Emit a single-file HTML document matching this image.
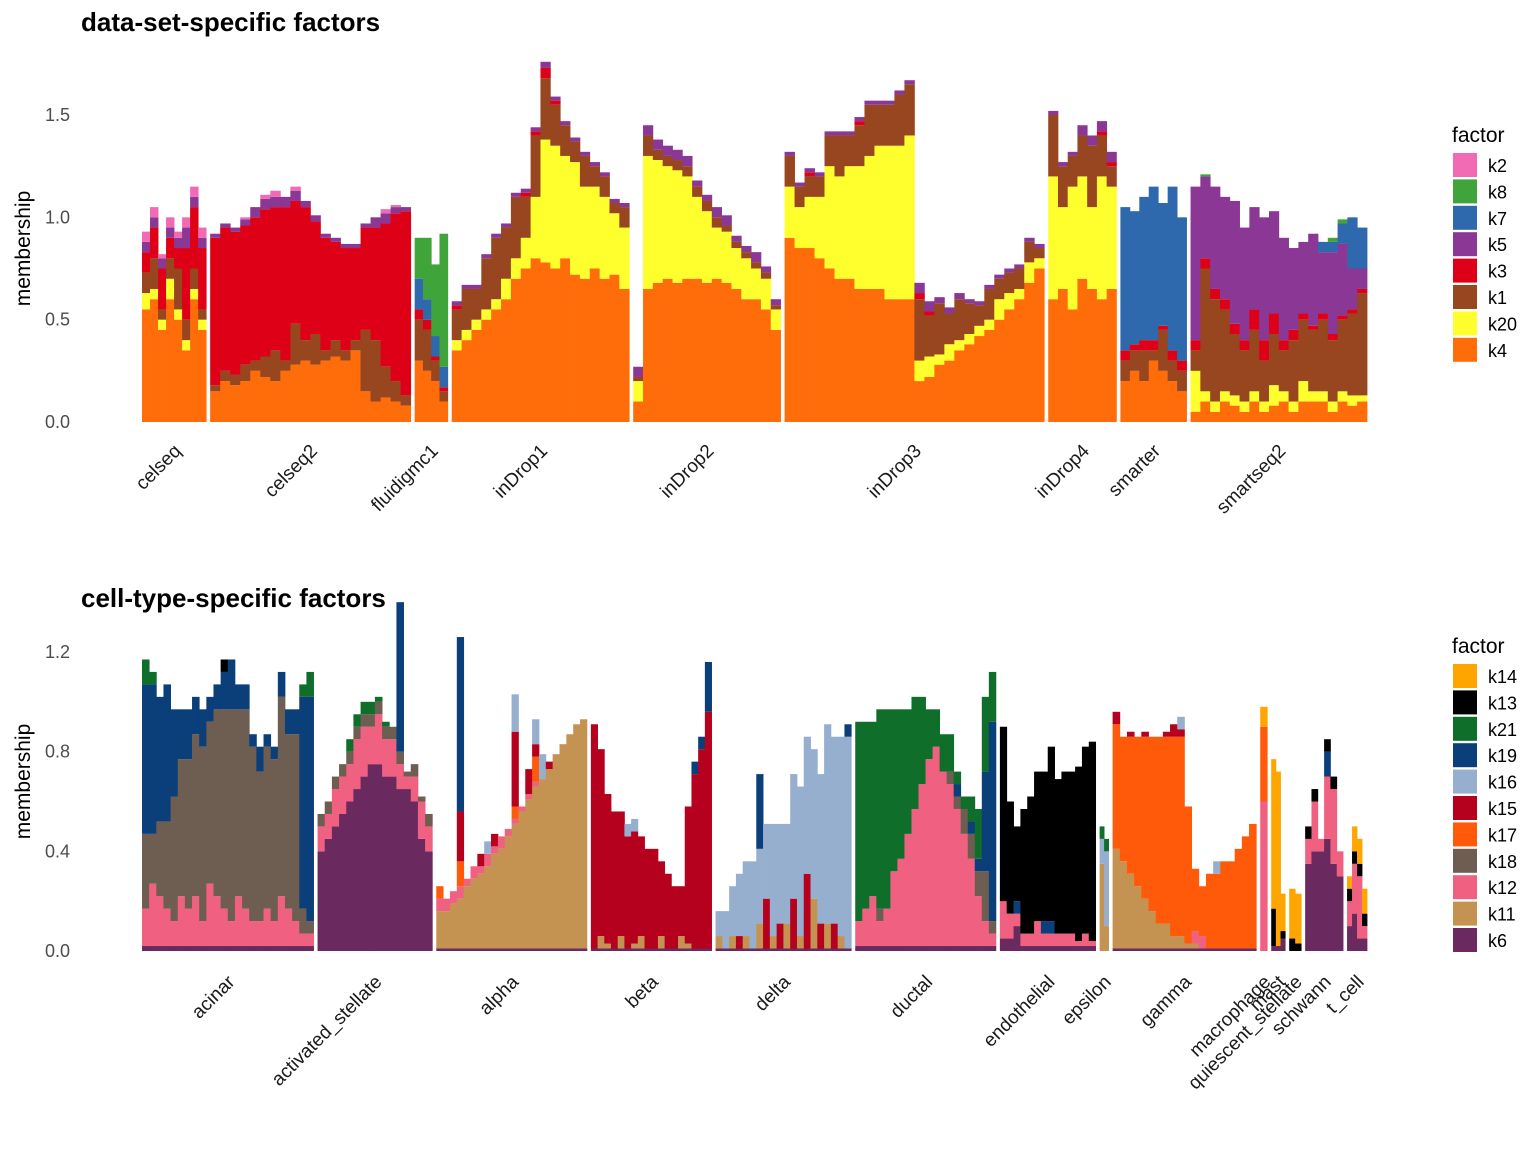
<!DOCTYPE html>
<html><head><meta charset="utf-8"><style>
body{margin:0;background:#fff}
svg text{font-family:"Liberation Sans",Arial,sans-serif}
</style></head><body>
<svg id="chart" width="1536" height="1152" viewBox="0 0 1536 1152" xmlns="http://www.w3.org/2000/svg">
<rect width="1536" height="1152" fill="#fff"/>
<text x="81" y="31" font-size="26" font-weight="bold">data-set-specific factors</text>
<text x="81" y="607" font-size="26" font-weight="bold">cell-type-specific factors</text>
<g id="top"></g>
<g id="bot"></g>
</svg>
<script>
// ---------- TOP PANEL DATA ----------
const topFactors = ['k4','k20','k1','k3','k5','k7','k8','k2'];
const topColors = {k4:'#FF6D0A',k20:'#FFFF2E',k1:'#97461F',k3:'#DD0016',k5:'#8B3796',k7:'#2F69AD',k8:'#3FA43A',k2:'#F06AB4'};
const topLegend = ['k2','k8','k7','k5','k3','k1','k20','k4'];
const topGroupNames = ['celseq','celseq2','fluidigmc1','inDrop1','inDrop2','inDrop3','inDrop4','smarter','smartseq2'];
const topGroupCells = [64,200,33,177,147,259,68,66,176];
const topYTicks = [0,0.5,1.0,1.5];
const topYTickLabels = ['0.0','0.5','1.0','1.5'];
const topData = [
 {k4:[0.55,0.6,0.45,0.6,0.5,0.35,0.6,0.45],k20:[0.08,0.05,0.05,0.1,0.05,0.05,0.05,0.05],k1:[0.1,0.15,0.05,0.1,0.2,0.1,0.1,0.05],k3:[0.1,0.15,0.2,0.1,0.1,0.35,0.3,0.3],k5:[0.05,0.05,0.05,0.05,0.05,0.1,0.05,0.05],k2:[0.05,0.05,0.02,0.05,0.03,0.05,0.05,0.05]},
 {k4:[0.15,0.2,0.18,0.2,0.25,0.22,0.2,0.25,0.28,0.3,0.28,0.3,0.32,0.3,0.35,0.15,0.1,0.12,0.1,0.08],k1:[0.03,0.05,0.05,0.08,0.05,0.1,0.15,0.05,0.2,0.1,0.15,0.05,0.08,0.05,0.05,0.3,0.3,0.15,0.1,0.05],k3:[0.72,0.7,0.7,0.68,0.7,0.72,0.7,0.75,0.6,0.65,0.55,0.55,0.48,0.5,0.45,0.5,0.55,0.7,0.82,0.9],k5:[0.02,0.02,0.02,0.03,0.05,0.05,0.05,0.05,0.05,0.03,0.03,0.02,0.02,0.02,0.02,0.02,0.05,0.05,0.03,0.02],k2:[0,0,0,0.01,0,0.02,0.03,0,0.02,0,0,0,0,0,0,0,0,0.02,0.01,0]},
 {k4:[0.3,0.25,0.2,0.1],k1:[0.2,0.2,0.1,0.05],k3:[0.05,0.05,0.02,0.02],k7:[0.15,0.1,0.1,0.1],k8:[0.2,0.3,0.35,0.65]},
 {k4:[0.35,0.4,0.45,0.5,0.55,0.6,0.7,0.75,0.8,0.78,0.75,0.8,0.72,0.7,0.75,0.7,0.72,0.65],k20:[0.05,0.05,0.05,0.05,0.05,0.1,0.1,0.15,0.3,0.6,0.6,0.5,0.55,0.45,0.4,0.4,0.3,0.3],k1:[0.15,0.2,0.15,0.25,0.3,0.25,0.3,0.2,0.3,0.3,0.2,0.15,0.1,0.15,0.1,0.1,0.05,0.1],k3:[0.02,0,0,0,0,0,0,0.02,0.02,0.05,0.02,0,0,0,0,0,0,0],k5:[0.02,0.02,0.02,0.02,0.02,0.02,0.02,0.02,0.02,0.03,0.02,0.02,0.02,0.02,0.02,0.02,0.02,0.02]},
 {k4:[0.1,0.65,0.68,0.7,0.68,0.7,0.7,0.68,0.7,0.68,0.65,0.6,0.6,0.55,0.45],k20:[0.1,0.65,0.6,0.55,0.55,0.5,0.4,0.35,0.25,0.25,0.2,0.2,0.15,0.15,0.1],k1:[0.02,0.1,0.05,0.05,0.05,0.05,0.05,0.05,0.05,0.03,0.03,0.03,0.03,0.03,0.02],k5:[0.05,0.05,0.05,0.05,0.05,0.05,0.03,0.03,0.05,0.05,0.03,0.03,0.05,0.03,0.03]},
 {k4:[0.9,0.85,0.85,0.8,0.75,0.7,0.7,0.65,0.65,0.65,0.6,0.6,0.6,0.2,0.22,0.28,0.3,0.35,0.38,0.42,0.45,0.5,0.55,0.6,0.68,0.75],k20:[0.25,0.2,0.25,0.3,0.5,0.5,0.55,0.6,0.65,0.7,0.75,0.75,0.8,0.1,0.1,0.05,0.08,0.05,0.05,0.05,0.05,0.1,0.08,0.05,0.1,0.05],k1:[0.15,0.1,0.1,0.1,0.15,0.2,0.15,0.2,0.25,0.2,0.2,0.25,0.25,0.3,0.2,0.25,0.15,0.2,0.15,0.1,0.15,0.1,0.1,0.1,0.1,0.05],k3:[0,0,0.02,0,0,0,0,0.02,0,0,0,0,0,0.03,0.02,0,0,0,0,0,0,0,0,0,0,0],k5:[0.02,0.02,0.02,0.02,0.02,0.02,0.02,0.02,0.02,0.02,0.02,0.02,0.02,0.05,0.05,0.03,0.03,0.03,0.02,0.02,0.02,0.02,0.02,0.02,0.02,0.02]},
 {k4:[0.6,0.65,0.55,0.7,0.65,0.6,0.65],k20:[0.6,0.4,0.6,0.5,0.4,0.6,0.5],k1:[0.3,0.2,0.15,0.2,0.3,0.2,0.1],k3:[0,0,0,0,0,0.02,0.02],k5:[0.02,0.02,0.02,0.05,0.05,0.05,0.05]},
 {k4:[0.2,0.25,0.2,0.3,0.25,0.2,0.15],k1:[0.1,0.1,0.15,0.05,0.2,0.1,0.1],k3:[0.05,0.03,0.05,0.05,0.02,0.05,0.05],k7:[0.7,0.65,0.7,0.75,0.6,0.8,0.7]},
 {k4:[0.05,0.1,0.05,0.1,0.08,0.05,0.1,0.05,0.08,0.1,0.05,0.1,0.1,0.1,0.05,0.1,0.08,0.1],k20:[0.2,0.05,0.05,0.05,0.05,0.05,0.05,0.05,0.1,0.05,0.05,0.1,0.05,0.05,0.05,0.05,0.05,0.03],k1:[0.1,0.6,0.5,0.4,0.3,0.25,0.3,0.2,0.25,0.2,0.3,0.3,0.3,0.35,0.3,0.35,0.4,0.5],k3:[0.05,0.05,0.05,0.05,0.05,0.05,0.1,0.1,0.1,0.05,0.05,0.03,0.02,0.03,0.03,0.02,0.02,0.02],k5:[0.75,0.4,0.5,0.5,0.6,0.55,0.5,0.6,0.5,0.5,0.4,0.35,0.45,0.3,0.4,0.35,0.2,0.1],k7:[0,0,0,0,0,0,0,0,0,0,0,0,0,0.05,0.05,0.1,0.25,0.2],k8:[0,0.01,0,0,0,0,0,0,0,0,0,0,0,0,0.02,0.02,0,0]}
];
// ---------- BOTTOM PANEL DATA ----------
const botFactors = ['k6','k11','k12','k18','k17','k15','k16','k19','k21','k13','k14'];
const botColors = {k14:'#FFA500',k13:'#000000',k21:'#0F6E2A',k19:'#0B3F7A',k16:'#97AFCF',k15:'#B5001E',k17:'#FF5A0A',k18:'#6E5E52',k12:'#F06080',k11:'#C49352',k6:'#6B2A5F'};
const botLegend = ['k14','k13','k21','k19','k16','k15','k17','k18','k12','k11','k6'];
const botGroupNames = ['acinar','activated_stellate','alpha','beta','delta','ductal','endothelial','epsilon','gamma','macrophage','mast','quiescent_stellate','schwann','t_cell'];
const botGroupCells = [172,115,151,121,136,141,96,9,144,7,14,12,38,20];
const botYTicks = [0,0.4,0.8,1.2];
const botYTickLabels = ['0.0','0.4','0.8','1.2'];
const botData = [
 {k6:[0.02,0.02,0.02,0.02,0.02,0.02,0.02,0.02,0.02,0.02,0.02,0.02,0.02,0.02,0.02,0.02,0.02,0.02,0.02,0.02,0.02,0.02,0.02,0.02],k12:[0.15,0.25,0.2,0.15,0.1,0.2,0.15,0.2,0.1,0.25,0.2,0.15,0.1,0.2,0.15,0.1,0.1,0.15,0.1,0.2,0.15,0.1,0.05,0.05],k18:[0.3,0.2,0.3,0.35,0.5,0.55,0.6,0.65,0.7,0.65,0.75,0.8,0.85,0.75,0.8,0.7,0.6,0.65,0.65,0.8,0.7,0.75,0.1,0.05],k19:[0.6,0.6,0.5,0.55,0.35,0.2,0.2,0.15,0.15,0.1,0.1,0.15,0.2,0.1,0.1,0.05,0.1,0.05,0.05,0.1,0.1,0.1,0.85,0.9],k21:[0.1,0.05,0,0,0,0,0,0,0,0,0,0,0,0,0,0,0,0,0,0,0,0,0.05,0.1],k13:[0,0,0,0,0,0,0,0,0,0,0,0.05,0,0,0,0,0,0,0,0,0,0,0,0]},
 {k6:[0.4,0.45,0.5,0.55,0.6,0.65,0.7,0.75,0.75,0.7,0.7,0.65,0.65,0.6,0.45,0.4],k12:[0.1,0.1,0.15,0.15,0.15,0.2,0.2,0.15,0.2,0.15,0.15,0.1,0.05,0.1,0.15,0.1],k18:[0.05,0.05,0.05,0.05,0.05,0.05,0.05,0.05,0.05,0.05,0.05,0.05,0.02,0.05,0.02,0.05],k21:[0,0,0,0,0.05,0.05,0.05,0.05,0.02,0.02,0,0,0,0,0,0],k19:[0,0,0,0,0,0,0,0,0,0,0,0.6,0,0,0,0]},
 {k6:[0.01,0.01,0.01,0.01,0.01,0.01,0.01,0.01,0.01,0.01,0.01,0.01,0.01,0.01,0.01,0.01,0.01,0.01,0.01,0.01,0.01,0.01],k11:[0.15,0.15,0.18,0.2,0.25,0.28,0.3,0.33,0.38,0.4,0.45,0.5,0.55,0.6,0.65,0.68,0.72,0.78,0.82,0.86,0.9,0.92],k12:[0.05,0.05,0.05,0.05,0.03,0.05,0.03,0.05,0.03,0.05,0.03,0.02,0.02,0.02,0.02,0,0,0,0,0,0,0],k17:[0.05,0,0,0.1,0,0,0,0,0,0,0,0.05,0,0,0.1,0,0,0,0,0,0,0],k15:[0,0,0,0.2,0,0,0.05,0,0.05,0,0,0.3,0,0.1,0.05,0,0.03,0,0,0,0,0],k16:[0,0,0,0,0,0,0,0.05,0,0,0,0.15,0,0,0.1,0.1,0,0,0,0,0,0],k19:[0,0,0,0.7,0,0,0,0,0,0,0,0,0,0,0,0,0,0,0,0,0,0]},
 {k6:[0.01,0.01,0.01,0.01,0.01,0.01,0.01,0.01,0.01,0.01,0.01,0.01,0.01,0.01,0.01,0.01,0.01,0.01],k11:[0,0.05,0.02,0,0.05,0,0.02,0.05,0,0,0.05,0,0,0.05,0.02,0,0,0],k15:[0.9,0.75,0.6,0.55,0.5,0.45,0.45,0.4,0.4,0.4,0.3,0.3,0.25,0.2,0.55,0.7,0.8,0.95],k16:[0,0,0,0,0,0.05,0.05,0,0,0,0,0,0,0,0,0,0,0],k19:[0,0,0,0,0,0,0,0,0,0,0,0,0,0,0,0.05,0.05,0.2]},
 {k6:[0.01,0.01,0.01,0.01,0.01,0.01,0.01,0.01,0.01,0.01,0.01,0.01,0.01,0.01,0.01,0.01,0.01,0.01,0.01,0.01],k11:[0.05,0,0.05,0,0.05,0,0.1,0,0.05,0,0.1,0,0.05,0,0.2,0,0.1,0,0.05,0],k15:[0,0,0,0.05,0,0,0,0.2,0,0.1,0,0.2,0,0.3,0,0.1,0,0.1,0,0],k16:[0.1,0.15,0.2,0.25,0.3,0.35,0.3,0.3,0.45,0.4,0.4,0.5,0.6,0.55,0.6,0.6,0.8,0.75,0.8,0.85],k19:[0,0,0,0,0,0,0.3,0,0,0,0,0,0,0,0,0,0,0,0,0.05]},
 {k6:[0.02,0.02,0.02,0.02,0.02,0.02,0.02,0.02,0.02,0.02,0.02,0.02,0.02,0.02,0.02,0.02,0.02,0.02,0.02,0.02],k12:[0.1,0.15,0.2,0.1,0.15,0.3,0.35,0.45,0.55,0.65,0.75,0.8,0.7,0.65,0.55,0.45,0.35,0.2,0.1,0.05],k18:[0,0,0,0.05,0,0,0,0,0,0,0,0,0,0.05,0.05,0.1,0.1,0.1,0.2,0.05],k21:[0.8,0.75,0.7,0.8,0.8,0.65,0.6,0.5,0.45,0.35,0.2,0.15,0.15,0.15,0.05,0.05,0.1,0.2,0.3,0.2],k19:[0,0,0,0,0,0,0,0,0,0,0,0,0,0,0.05,0,0.05,0.05,0.4,0.8]},
 {k6:[0.05,0.05,0.1,0.02,0.02,0.02,0.02,0.02,0.02,0.02,0.02,0.02,0.02,0.02],k12:[0.15,0.1,0.05,0.05,0.05,0.1,0.05,0.05,0.05,0.05,0.05,0.02,0.05,0.02],k19:[0,0,0.05,0,0,0,0.05,0.05,0,0,0,0,0,0],k13:[0.7,0.45,0.3,0.5,0.55,0.6,0.6,0.7,0.62,0.65,0.65,0.7,0.75,0.8]},
 {k11:[0.35,0.1],k16:[0.1,0.3],k21:[0.05,0.05]},
 {k6:[0.01,0.01,0.01,0.01,0.01,0.01,0.01,0.01,0.01,0.01,0.01,0.01,0.01,0.01,0.01,0.01,0.01,0.01,0.01,0.01],k11:[0.4,0.35,0.3,0.25,0.2,0.15,0.1,0.1,0.05,0.05,0.02,0.02,0,0,0,0,0,0,0,0],k12:[0,0,0,0,0,0,0,0,0,0,0,0.05,0.05,0,0,0,0,0,0,0],k17:[0.5,0.5,0.55,0.6,0.65,0.7,0.75,0.75,0.8,0.8,0.55,0.25,0.2,0.3,0.3,0.35,0.35,0.4,0.45,0.5],k15:[0.05,0,0.02,0,0.02,0,0,0.02,0.05,0.03,0,0,0,0,0,0,0,0,0,0],k16:[0,0,0,0,0,0,0,0,0,0.05,0,0,0,0,0.05,0,0,0,0,0]},
 {k12:[0.6],k17:[0.3],k14:[0.08]},
 {k6:[0.02,0.02,0.05],k13:[0.15,0,0.03],k14:[0.6,0.7,0.15]},
 {k13:[0.05,0.03],k14:[0.2,0.2]},
 {k6:[0.35,0.4,0.4,0.45,0.35,0.3],k12:[0.1,0.2,0.05,0.25,0.3,0.1],k19:[0,0,0,0.1,0,0],k13:[0.05,0.05,0,0.05,0.05,0]},
 {k6:[0.1,0.15,0.05,0.05],k12:[0.1,0.2,0.25,0.05],k13:[0.05,0.05,0.05,0.05],k14:[0.05,0.1,0.1,0.1]}
];

const NS='http://www.w3.org/2000/svg';
function mk(tag,attrs,parent){const e=document.createElementNS(NS,tag);for(const k in attrs)e.setAttribute(k,attrs[k]);parent.appendChild(e);return e;}

function drawPanel(g,cfg){
  const x0=142,x1=1367,gap=4;
  const y=(v)=>cfg.y0-(v/cfg.yMax)*(cfg.y0-cfg.yTop);
  const totalCells=cfg.cells.reduce((a,b)=>a+b,0);
  const avail=(x1-x0)-gap*(cfg.cells.length-1);
  let gx=x0;
  cfg.cells.forEach((cnt,gi)=>{
    const gw=avail*cnt/totalCells;
    const d=cfg.data[gi];
    const n=d[Object.keys(d)[0]].length;
    const bw=gw/n;
    for(let i=0;i<n;i++){
      let acc=0;
      cfg.factors.forEach(f=>{
        if(!d[f])return;
        const v=d[f][i];
        if(v<=0)return;
        const r=mk('rect',{x:(gx+i*bw).toFixed(2),y:y(acc+v).toFixed(2),width:(bw+0.4).toFixed(2),height:(y(acc)-y(acc+v)).toFixed(2),fill:cfg.colors[f]},g);
        
        
        acc+=v;
      });
    }
    const cx=gx+gw/2;
    const t=mk('text',{x:0,y:0,'font-size':19,'text-anchor':'end',fill:'#1a1a1a',transform:`translate(${cx+8},${cfg.labY}) rotate(-45)`},g);
    t.textContent=cfg.names[gi];
    
    
    gx+=gw+gap;
  });
  cfg.ticks.forEach((v,i)=>{
    const t=mk('text',{x:70,y:y(v)+6,'font-size':18,'text-anchor':'end',fill:'#4d4d4d'},g);
    t.textContent=cfg.tickLabels[i];
    
    
  });
  const yt=mk('text',{x:0,y:0,'font-size':21,'text-anchor':'middle',transform:`translate(30,${(cfg.y0+cfg.yTop)/2-20}) rotate(-90)`},g);
  yt.textContent='membership';
  
  
  const lt=mk('text',{x:1452,y:cfg.legY,'font-size':21},g);
  lt.textContent='factor';
  
  
  cfg.legend.forEach((f,i)=>{
    const yy=cfg.legY+11+i*26.4;
    const r=mk('rect',{x:1453,y:yy,width:24,height:24,fill:cfg.colors[f]},g);
    
    
    const t=mk('text',{x:1488,y:yy+19,'font-size':18},g);
    t.textContent=f;
    
    
  });
}
drawPanel(document.getElementById('top'),{y0:422,yTop:115,yMax:1.5,cells:topGroupCells,data:topData,factors:topFactors,colors:topColors,names:topGroupNames,labY:452,ticks:topYTicks,tickLabels:topYTickLabels,legend:topLegend,legY:142});
drawPanel(document.getElementById('bot'),{y0:951,yTop:652,yMax:1.2,cells:botGroupCells,data:botData,factors:botFactors,colors:botColors,names:botGroupNames,labY:983,ticks:botYTicks,tickLabels:botYTickLabels,legend:botLegend,legY:653});
</script>
</body></html>
